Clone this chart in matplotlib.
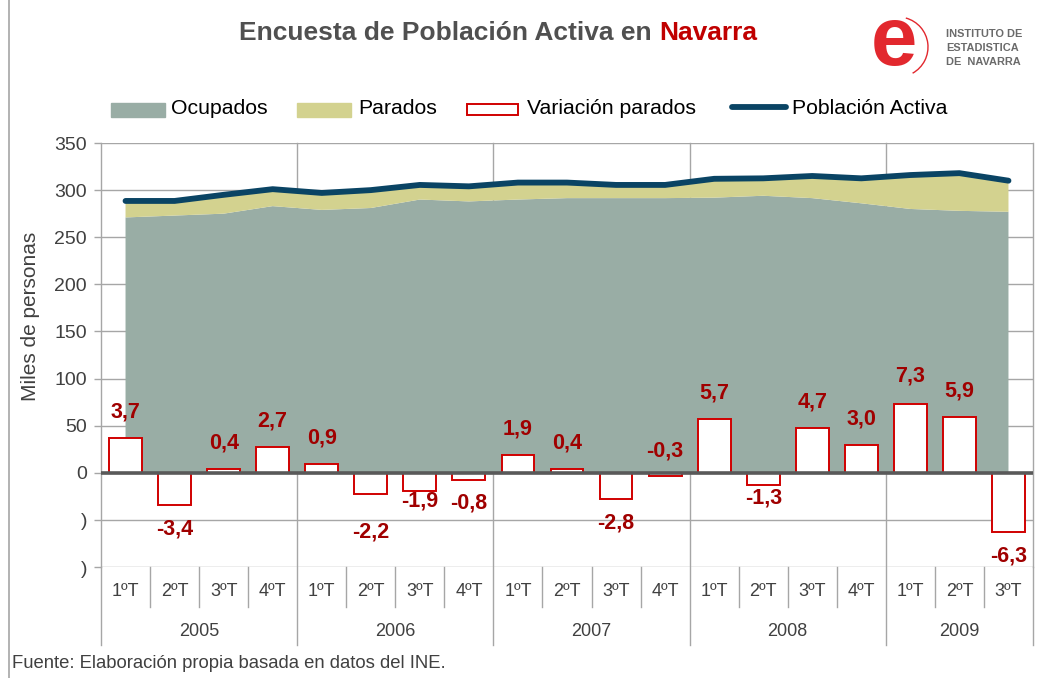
import matplotlib
matplotlib.use("Agg")
import matplotlib.pyplot as plt
from matplotlib.patches import Rectangle, Arc
from matplotlib.lines import Line2D
import matplotlib.transforms as mtransforms

plt.rcParams['font.family'] = ['Liberation Sans', 'DejaVu Sans']

# --------------------
# Data (miles de personas)
# --------------------
years = ["2005", "2006", "2007", "2008", "2009"]
quarters = ["1ºT", "2ºT", "3ºT", "4ºT",
            "1ºT", "2ºT", "3ºT", "4ºT",
            "1ºT", "2ºT", "3ºT", "4ºT",
            "1ºT", "2ºT", "3ºT", "4ºT",
            "1ºT", "2ºT", "3ºT"]
ocupados = [271, 273, 275, 283, 279, 281, 290, 288, 290, 291.5,
            291.5, 291.5, 292, 294, 291.5, 286, 280, 278, 277]
parados = [17.5, 15.5, 20, 18, 18, 19, 15.5, 16, 18, 16.5,
           14, 14, 20, 18.5, 23.5, 26.5, 36, 40, 33]
variacion = [3.7, -3.4, 0.4, 2.7, 0.9, -2.2, -1.9, -0.8, 1.9, 0.4,
             -2.8, -0.3, 5.7, -1.3, 4.7, 3.0, 7.3, 5.9, -6.3]
# label offsets from bar end (pixels), some moved by hand in the original
label_dy = [26, -24, 26, 26, 26, -38, -10, -23, 26, 26,
            -24, 25, 26, -13, 26, 26, 28, 26, -24]

activa = [o + p for o, p in zip(ocupados, parados)]
x = list(range(len(quarters)))

C_OCUP = "#99ADA5"
C_PAR = "#D3D28F"
C_LINE = "#0A4464"
C_RED = "#D00000"
C_LAB = "#A00000"
C_GRID = "#A6A6A6"
C_TXT = "#404040"

W, H = 1037, 678
fig = plt.figure(figsize=(W / 100, H / 100), dpi=100)


def fx(px):
    return px / W


def fy(py):
    return 1 - py / H


ax = fig.add_axes([fx(101), fy(567), fx(1033 - 101), (567 - 143) / H])

# --------------------
# Areas, line, bars
# --------------------
ax.stackplot(x, ocupados, parados, colors=[C_OCUP, C_PAR], zorder=2, lw=0)
ax.plot(x, activa, color=C_LINE, lw=4.2, solid_capstyle='round', zorder=5)
ax.bar(x, [v * 10 for v in variacion], width=0.67, color="white",
       edgecolor=C_RED, lw=1.4, zorder=3)
ax.axhline(0, color="#595959", lw=2.6, zorder=4)

for xi, v, dy in zip(x, variacion, label_dy):
    ax.annotate(f"{v:.1f}".replace(".", ","), (xi, v * 10),
                xytext=(0, dy * 0.72), textcoords="offset points",
                ha="center", va="center", fontsize=15.5, fontweight="bold",
                color=C_LAB, zorder=6)

# --------------------
# Axes styling
# --------------------
ax.set_xlim(-0.5, len(x) - 0.5)
ax.set_ylim(-100, 350)
yt = list(range(-100, 351, 50))
ax.set_yticks(yt)
ax.set_yticklabels([")" if t < 0 else str(t) for t in yt], fontsize=14,
                   color=C_TXT)
ax.tick_params(axis="y", length=5, width=1, color=C_GRID, pad=5)
ax.set_xticks([])
ax.grid(axis="y", color=C_GRID, lw=1, zorder=0)
ax.set_axisbelow(True)
for s in ["top", "bottom"]:
    ax.spines[s].set_visible(False)
for s in ["left", "right"]:
    ax.spines[s].set_color(C_GRID)
    ax.spines[s].set_linewidth(1)
ax.set_ylabel("Miles de personas", fontsize=15, color=C_TXT)
ax.yaxis.set_label_coords((40 - 101) / (1033 - 101), (567 - 316) / 424)

# vertical year lines and category table
trans = mtransforms.blended_transform_factory(ax.transData, ax.transAxes)
for i in range(1, len(x)):
    xb = i - 0.5
    if i % 4 == 0:
        ax.plot([xb, xb], [1, -78 / 424], color=C_GRID, lw=1, zorder=1,
                transform=trans, clip_on=False)
    else:
        ax.plot([xb, xb], [0, -40 / 424], color=C_GRID, lw=1,
                transform=trans, clip_on=False)
for xb in [-0.5, len(x) - 0.5]:
    ax.plot([xb, xb], [0, -78 / 424], color=C_GRID, lw=1,
            transform=trans, clip_on=False)

for xi, q in zip(x, quarters):
    ax.text(xi, -25 / 424, q, transform=trans, ha="center", va="center",
            fontsize=13, color=C_TXT)
for j, yr in enumerate(years):
    n = min(4, len(x) - 4 * j)
    ax.text(4 * j + (n - 1) / 2, -65 / 424, yr, transform=trans,
            ha="center", va="center", fontsize=13, color=C_TXT)

# --------------------
# Title, legend, logo, footer
# --------------------
t1 = fig.text(fx(239), fy(33), "Encuesta de Población Activa en ",
              fontsize=19, fontweight="bold", color="#505050",
              ha="left", va="center")
fig.canvas.draw()
bb = t1.get_window_extent()
fig.text(bb.x1 / W, fy(33), "Navarra", fontsize=19, fontweight="bold",
         color="#C00000", ha="left", va="center")

fig.patches.append(Rectangle((fx(111), fy(117)), fx(54), 14 / H,
                             transform=fig.transFigure, color=C_OCUP))
fig.text(fx(171), fy(108), "Ocupados", fontsize=15.3, va="center")
fig.patches.append(Rectangle((fx(297), fy(117)), fx(54), 14 / H,
                             transform=fig.transFigure, color=C_PAR))
fig.text(fx(358), fy(108), "Parados", fontsize=15.3, va="center")
fig.patches.append(Rectangle((fx(467), fy(115)), fx(51), 11 / H,
                             transform=fig.transFigure, facecolor="white",
                             edgecolor=C_RED, lw=1.4))
fig.text(fx(527), fy(108), "Variación parados", fontsize=15.3, va="center")
fig.lines.append(Line2D([fx(732), fx(786)], [fy(107), fy(107)],
                        transform=fig.transFigure, color=C_LINE, lw=4.2,
                        solid_capstyle="round"))
fig.text(fx(792), fy(108), "Población Activa", fontsize=15.3, va="center")

# logo
fig.text(fx(894), fy(43), "e", fontsize=60, fontweight="bold",
         color="#E2282E", ha="center", va="center")
fig.patches.append(Arc((fx(898), fy(47)), 60 / W, 60 / H, theta1=-70,
                       theta2=80, transform=fig.transFigure,
                       color="#E2282E", lw=1))
for k, s in enumerate(["INSTITUTO DE", "ESTADISTICA", "DE  NAVARRA"]):
    fig.text(fx(946), fy(34 + 14 * k), s, fontsize=7.9, fontweight="bold",
             color="#6A6A6A", va="center")

fig.text(fx(12), fy(663), "Fuente: Elaboración propia basada en datos del INE.",
         fontsize=13.3, color=C_TXT, va="center")
fig.lines.append(Line2D([fx(8.5), fx(8.5)], [0, 1], transform=fig.transFigure,
                        color=C_GRID, lw=1.2))

plt.savefig("out.png", dpi=100)
